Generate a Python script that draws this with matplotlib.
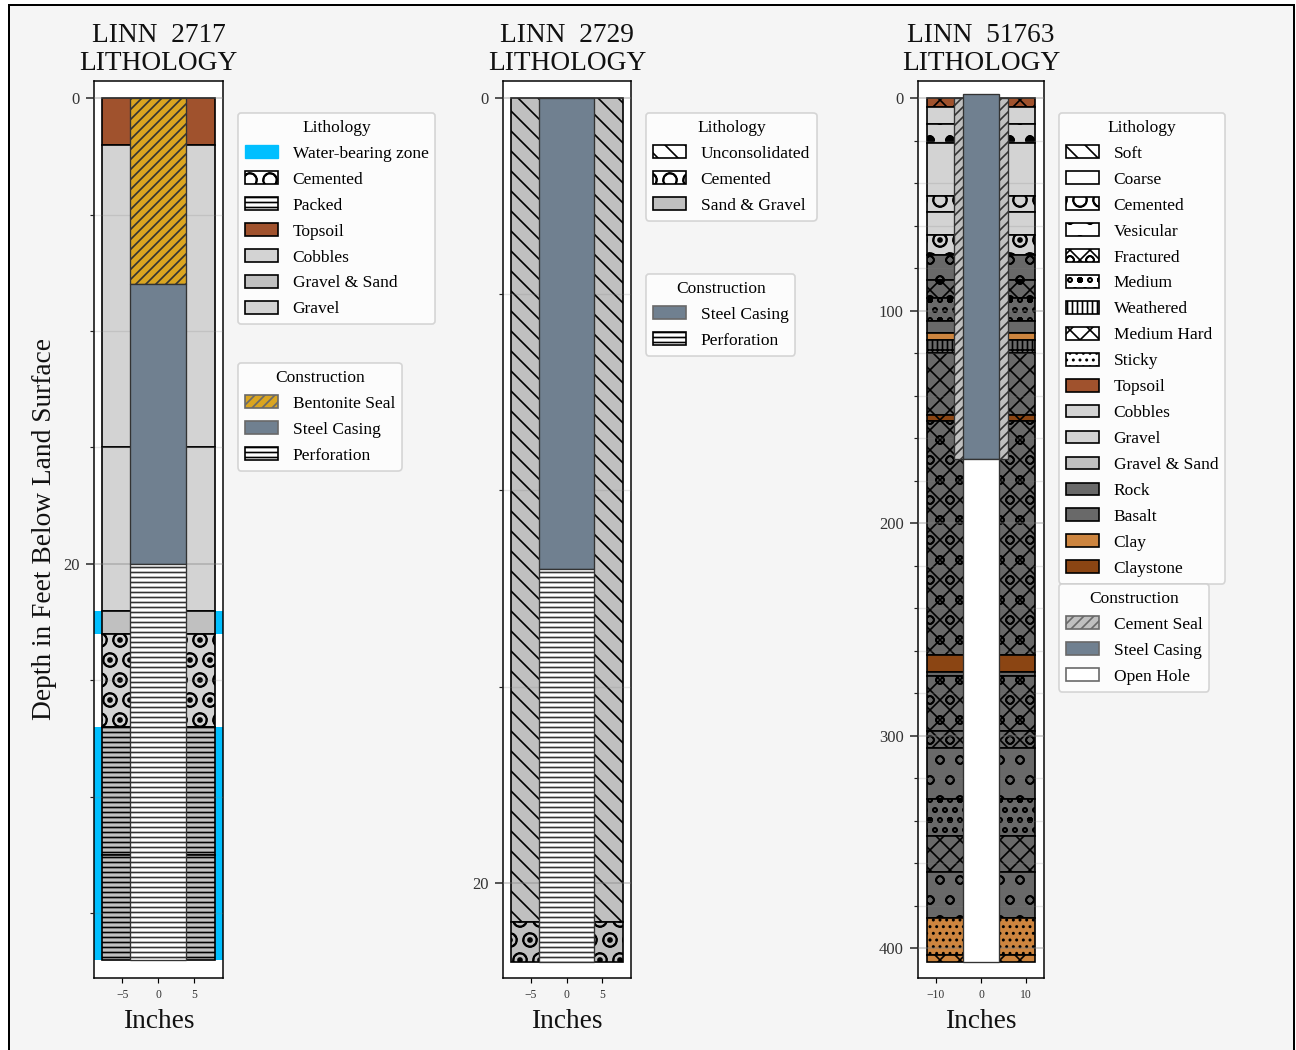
import matplotlib

matplotlib.use("Agg")
import matplotlib.pyplot as plt
from matplotlib.patches import Patch, Rectangle

W, H = 1296, 1050
DPI = 120

# ---- well 2717 ----
w1_top = [0, 2, 15, 22, 23, 27, 32.5]
w1_bot = [2, 15, 22, 23, 27, 32.5, 37]
w1_lith = ["Topsoil", "Gravel", "Gravel", "Gravel & Sand", "Cobbles", "Gravel & Sand", "Gravel & Sand"]
w1_mod = ["", "", "", "", "O.", "----", "----"]
w1_water_top = [22, 27]
w1_water_bot = [23, 37]
w1_con_top = [0, 8, 20]
w1_con_bot = [8, 20, 37]
w1_con = ["Bentonite Seal", "Steel Casing", "Perforation"]
w1_legend = ["Water-bearing zone", "Cemented", "Packed", "Topsoil", "Cobbles", "Gravel & Sand", "Gravel"]

# ---- well 2729 ----
w2_top = [0, 21]
w2_bot = [21, 22]
w2_lith = ["Sand & Gravel", "Sand & Gravel"]
w2_mod = ["\\\\", "O."]
w2_con_top = [0, 12]
w2_con_bot = [12, 22]
w2_con = ["Steel Casing", "Perforation"]
w2_legend = ["Unconsolidated", "Cemented", "Sand & Gravel"]

# ---- well 51763 ----
w3_top = [0, 4, 12, 21, 46, 53.5, 64.5, 74, 85.6, 94, 105, 110.6, 114, 120, 149, 152, 262, 270, 272, 298, 306, 330, 347, 364, 386, 403]
w3_bot = [4, 12, 21, 46, 53.5, 64.5, 74, 85.6, 94, 105, 110.6, 114, 120, 149, 152, 262, 270, 272, 298, 306, 330, 347, 364, 386, 403, 406.5]
w3_lith = ["Topsoil", "Cobbles", "Cobbles", "Cobbles", "Cobbles", "Gravel", "Gravel", "Rock", "Rock", "Rock", "Rock",
           "Clay", "Rock", "Rock", "Claystone", "Basalt", "Claystone", "Basalt", "Basalt", "Basalt", "Rock", "Rock",
           "Rock", "Rock", "Clay", "Clay"]
w3_mod = ["xx", "", "o.", "", "O", "", "O.", "o", "xxo.", "oo.", "", "", "|||+", "xx", "xx", "xxo", "", "", "xxo", "xxo",
          "o", "oo.", "xx", "o", "...", "xx"]
w3_con_top = [-2, 170]
w3_con_bot = [170, 406.5]
w3_con = ["Steel Casing", "Open Hole"]
w3_seal_top = [0]
w3_seal_bot = [170]
w3_legend = ["Soft", "Coarse", "Cemented", "Vesicular", "Fractured", "Medium", "Weathered", "Medium Hard", "Sticky",
             "Topsoil", "Cobbles", "Gravel", "Gravel & Sand", "Rock", "Basalt", "Clay", "Claystone"]

COLORS = {
    "Topsoil": "#A0522D", "Cobbles": "#D3D3D3", "Gravel": "#D3D3D3", "Gravel & Sand": "#C0C0C0",
    "Sand & Gravel": "#C0C0C0", "Rock": "#696969", "Basalt": "#696969", "Clay": "#CD853F",
    "Claystone": "#8B4513", "Bentonite Seal": "#DAA520", "Steel Casing": "#708090",
    "Perforation": "white", "Open Hole": "white", "Cement Seal": "#C0C0C0", "Water-bearing zone": "#00BFFF",
}
HATCHES = {
    "Soft": "\\\\", "Unconsolidated": "\\\\", "Coarse": "_", "Cemented": "O", "Vesicular": "o", "Fractured": "xxo",
    "Medium": "oo.", "Weathered": "||||", "Medium Hard": "xx", "Sticky": "...", "Packed": "----", "Perforation": "----",
    "Bentonite Seal": "////", "Cement Seal": "////",
}

plt.rcParams["font.family"] = ["Liberation Serif", "DejaVu Serif"]
plt.rcParams["hatch.linewidth"] = 1.0


def px_rect(x0, y0, x1, y1):
    # pixel box (y down) to figure fractions
    return [x0 / W, 1 - y1 / H, (x1 - x0) / W, (y1 - y0) / H]


def make_handles(names):
    handles = []
    for name in names:
        if name == "Water-bearing zone":
            handles.append(Patch(facecolor=COLORS[name], edgecolor=COLORS[name], lw=0.8, label=name))
            continue
        face = COLORS.get(name, "white")
        edge = "dimgray" if name in ("Bentonite Seal", "Steel Casing", "Cement Seal", "Open Hole") else "black"
        handles.append(Patch(facecolor=face, edgecolor=edge, hatch=HATCHES.get(name, ""), lw=1.0, label=name))
    return handles


def add_legend(fig, title, names, x, y):
    leg = fig.legend(
        handles=make_handles(names),
        title=title,
        loc="upper left",
        bbox_to_anchor=(x / W, 1 - y / H),
        bbox_transform=fig.transFigure,
        borderaxespad=0,
        fontsize=10.4,
        title_fontsize=10.4,
        labelspacing=0.55,
        handlelength=1.9,
        handleheight=0.75,
        handletextpad=0.85,
        borderpad=0.4,
    )
    return leg


def draw_well(fig, box, xlim, ylim, major, minor, xticks, width, casing_w, title,
              tops, bots, lith, mods, con_top, con_bot, con):
    ax = fig.add_axes(px_rect(*box))
    ax.set_facecolor("white")
    for t, b, name, mod in zip(tops, bots, lith, mods):
        ax.bar(0, b - t, width=width, bottom=t, color=COLORS[name], edgecolor="black", hatch=mod, lw=1.0, zorder=2)
    for t, b, name in zip(con_top, con_bot, con):
        ax.bar(0, b - t, width=casing_w, bottom=t, color=COLORS[name],
               edgecolor="#333333", hatch=HATCHES.get(name, ""), lw=0.8, zorder=4)
    ax.set_xlim(*xlim)
    ax.set_ylim(*ylim)
    ax.set_yticks(major)
    ax.set_yticks(minor, minor=True)
    ax.set_xticks(xticks)
    ax.tick_params(axis="y", which="major", labelsize=10, length=5, width=0.9, color="#222222", labelcolor="#333333")
    ax.tick_params(axis="y", which="minor", length=2.5, width=0.7, color="#222222")
    ax.tick_params(axis="x", labelsize=7, length=3, width=0.7, labelcolor="#333333")
    ax.grid(True, which="major", axis="y", color="gray", alpha=0.45, lw=0.9, zorder=6)
    ax.grid(True, which="minor", axis="y", color="gray", alpha=0.2, lw=0.8, zorder=6)
    ax.set_axisbelow(False)
    ax.set_title(title, fontsize=16.4, pad=6.5, linespacing=1.16, color="#111111")
    ax.set_xlabel("Inches", fontsize=16.4, labelpad=5, color="#111111")
    for s in ax.spines.values():
        s.set_linewidth(0.9)
    return ax


fig = plt.figure(figsize=(W / DPI, H / DPI), dpi=DPI, facecolor="white")
fig.add_artist(Rectangle((9 / W, -0.01), (1294 - 9) / W, 1.01 - 5 / H, transform=fig.transFigure,
                         facecolor="#F5F5F5", edgecolor="black", lw=1.2, zorder=-5))

ax1 = draw_well(fig, (94, 81, 223, 978), (-8.9, 9.0), (37.77, -0.73), [0, 20], [5, 10, 15, 25, 30, 35], [-5, 0, 5], 15.7, 7.7,
                "LINN  2717\nLITHOLOGY", w1_top, w1_bot, w1_lith, w1_mod, w1_con_top, w1_con_bot, w1_con)
for t, b in zip(w1_water_top, w1_water_bot):
    ax1.bar(0, b - t, width=17.9, bottom=t, color=COLORS["Water-bearing zone"], lw=0, zorder=1)
ax1.set_ylabel("Depth in Feet Below Land Surface", fontsize=16.4, labelpad=4, color="#111111")

ax2 = draw_well(fig, (503, 81, 631, 978), (-8.9, 9.0), (22.42, -0.43), [0, 20], [5, 10, 15], [-5, 0, 5], 15.7, 7.7,
                "LINN  2729\nLITHOLOGY", w2_top, w2_bot, w2_lith, w2_mod, w2_con_top, w2_con_bot, w2_con)

ax3 = draw_well(fig, (918, 81, 1044, 978), (-14, 14), (414, -8), [0, 100, 200, 300, 400],
                [20, 40, 60, 80, 120, 140, 160, 180, 220, 240, 260, 280, 320, 340, 360, 380], [-10, 0, 10], 23.8, 8,
                "LINN  51763\nLITHOLOGY", w3_top, w3_bot, w3_lith, w3_mod, w3_con_top, w3_con_bot, w3_con)
for t, b in zip(w3_seal_top, w3_seal_bot):
    ax3.bar(0, b - t, width=11.8, bottom=t, color=COLORS["Cement Seal"], edgecolor="#333333",
            hatch=HATCHES["Cement Seal"], lw=0.8, zorder=3)

add_legend(fig, "Lithology", w1_legend, 238, 113)
add_legend(fig, "Construction", w1_con, 238, 363)
add_legend(fig, "Lithology", w2_legend, 646, 113)
add_legend(fig, "Construction", w2_con, 646, 274)
add_legend(fig, "Lithology", w3_legend, 1059, 113)
add_legend(fig, "Construction", ["Cement Seal", "Steel Casing", "Open Hole"], 1059, 584)

fig.savefig("out.png", dpi=DPI, facecolor=fig.get_facecolor())
